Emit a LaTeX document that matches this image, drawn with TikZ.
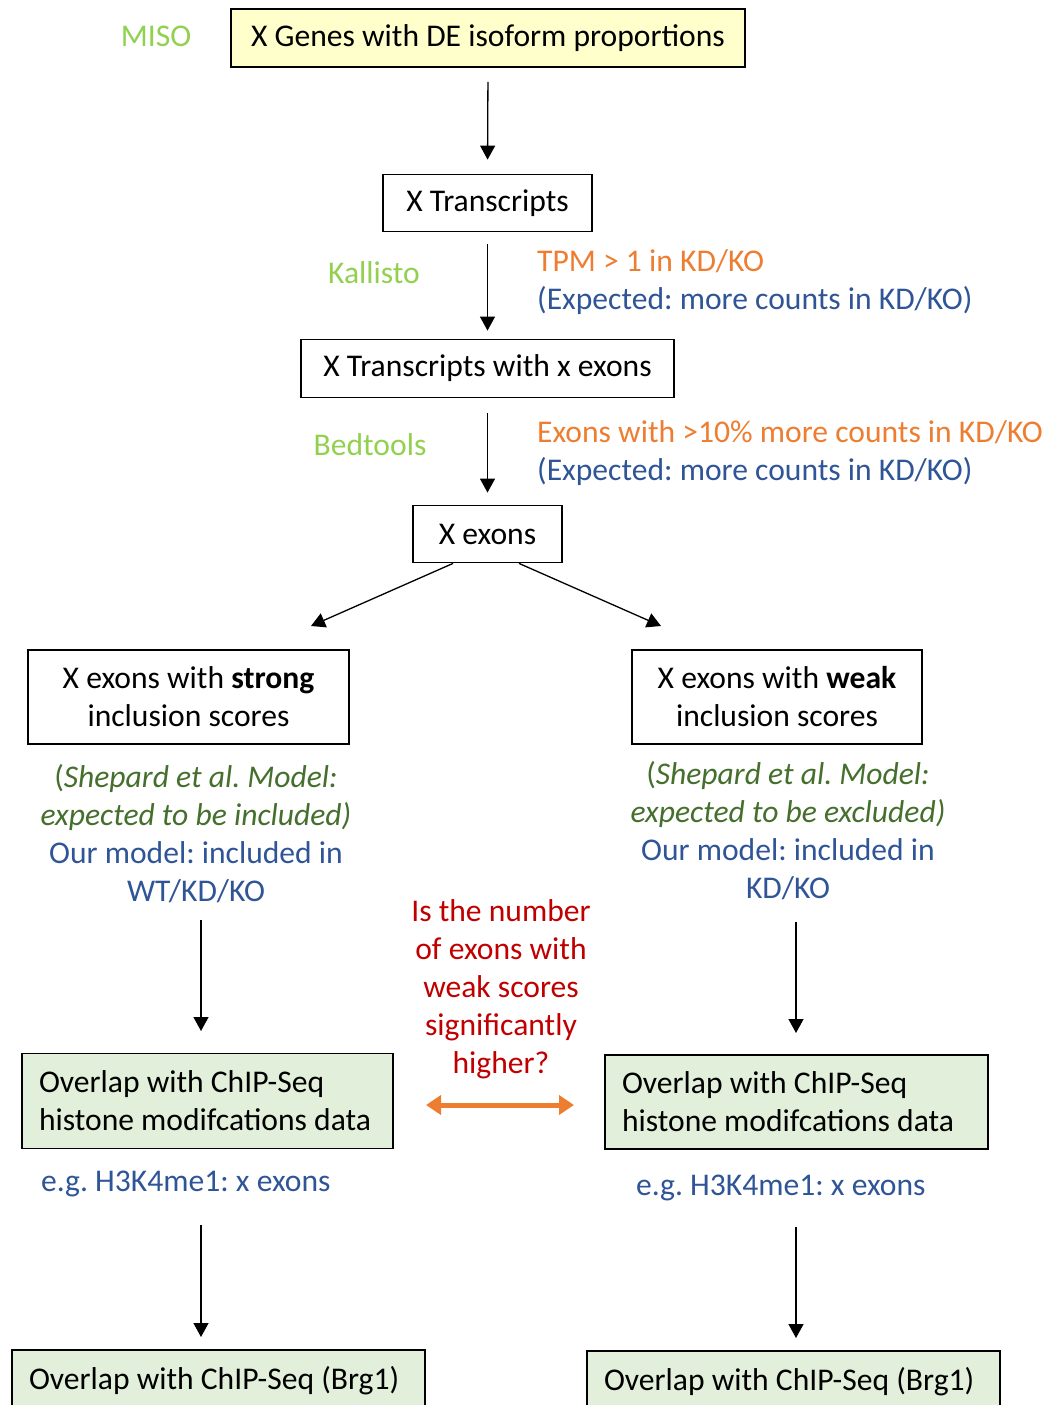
\documentclass[tikz,border=0pt]{standalone}
\usepackage{fontspec}
\setmainfont{Carlito}
\frenchspacing
\usetikzlibrary{arrows.meta,calc}
\definecolor{lgreen}{HTML}{92D050}
\definecolor{oorange}{HTML}{ED7D31}
\definecolor{oblue}{HTML}{2F5597}
\definecolor{dgreen}{HTML}{456F2D}
\definecolor{dred}{HTML}{C00000}
\definecolor{yfill}{HTML}{FFFFCC}
\definecolor{gfill}{HTML}{E2EFDA}
\begin{document}
\begin{tikzpicture}[x=1pt,y=-1pt,
  font=\fontsize{31.6}{38}\selectfont,
  box/.style={draw, line width=1.8pt, inner sep=0pt, align=center},
  lbox/.style={draw, line width=1.8pt, inner xsep=17pt, inner ysep=0pt, align=flush left},
  lbl/.style={inner sep=0pt, text height=0.72em, text depth=0.22em},
  arr/.style={line width=1.3pt, -{Triangle[width=15pt,length=14pt]}},
  darr/.style={line width=5pt, draw=oorange, {Triangle[width=19pt,length=15pt]}-{Triangle[width=19pt,length=15pt]}}
]
\useasboundingbox (0,0) rectangle (1049,1405);
\clip (0,0) rectangle (1049,1405);

% boxes
\node[box, fill=yfill, minimum width=514pt, minimum height=58pt] (b1) at (488,38) {X Genes with DE isoform proportions};
\node[box, minimum width=209pt, minimum height=57pt] (b2) at (487.5,203) {X Transcripts};
\node[box, minimum width=373pt, minimum height=58pt] (b3) at (487.5,368.5) {X Transcripts with x exons};
\node[box, minimum width=149pt, minimum height=57pt] (b4) at (487.5,534) {X exons};
\node[box, minimum width=321pt, minimum height=94pt] (b5) at (188.5,697) {X exons with \textbf{strong}\\inclusion scores};
\node[box, minimum width=290pt, minimum height=94pt] (b6) at (777,697) {X exons with \textbf{weak}\\inclusion scores};
\node[lbox, fill=gfill, text width=337pt, minimum height=95pt] (b7) at (207.5,1101) {Overlap with ChIP-Seq\\histone modifcations data};
\node[lbox, fill=gfill, text width=349pt, minimum height=94pt] (b8) at (796.5,1102) {Overlap with ChIP-Seq\\histone modifcations data};
\node[lbox, fill=gfill, text width=379pt, minimum height=62pt] (b9) at (218.5,1381) {Overlap with ChIP-Seq (Brg1)};
\node[lbox, fill=gfill, text width=379pt, minimum height=62pt] (b10) at (793.5,1382) {Overlap with ChIP-Seq (Brg1)};

% side labels
\node[lbl, text=lgreen] (miso) at (156,44) {MISO};
\node[lbl, text=lgreen] (kal) at (374,281) {Kallisto};
\node[lbl, text=lgreen] (bed) at (370,453) {Bedtools};
\node[lbl, anchor=west, text=oorange] (tpm) at (537,269) {TPM > 1 in KD/KO};
\node[lbl, anchor=west, text=oblue] (exp1) at (537,307) {(Expected: more counts in KD/KO)};
\node[lbl, anchor=west, text=oorange] (ex10) at (537,440) {Exons with >10\% more counts in KD/KO};
\node[lbl, anchor=west, text=oblue] (exp2) at (537,478) {(Expected: more counts in KD/KO)};

\node[lbl, align=center] (notesL) at (196,899) {\textcolor{dgreen}{(\textit{Shepard et al. Model:}}\\\textcolor{dgreen}{\textit{expected to be included)}}\\\textcolor{oblue}{Our model: included in}\\\textcolor{oblue}{WT/KD/KO}};
\node[lbl, align=center] (notesR) at (788,896) {\textcolor{dgreen}{(\textit{Shepard et al. Model:}}\\\textcolor{dgreen}{\textit{expected to be excluded)}}\\\textcolor{oblue}{Our model: included in}\\\textcolor{oblue}{KD/KO}};

\node[lbl, align=center, text=dred] (q) at (501,1071) {Is the number\\of exons with\\weak scores\\significantly\\higher?};

\node[lbl, anchor=west, text=oblue] (egL) at (41,1189) {e.g. H3K4me1: x exons};
\node[lbl, anchor=west, text=oblue] (egR) at (636,1193) {e.g. H3K4me1: x exons};

% connectors
\draw[arr, shorten <=14pt, shorten >=14pt] (b1.south) -- (b2.north);
\draw[arr, shorten <=12pt, shorten >=8pt] (b2.south) -- (b3.north);
\draw[arr, shorten <=15pt, shorten >=12pt] (b3.south) -- (b4.north);

\coordinate (dL0) at ($(b4.south)+(-34.5,0)$);
\coordinate (dR0) at ($(b4.south)+(31.5,0)$);
\coordinate (dL1) at (311,626);
\coordinate (dR1) at (661,626);
\draw[arr] (dL0) -- (dL1);
\draw[arr] (dR0) -- (dR1);

\coordinate (vL0) at (201,920);
\coordinate (vL1) at (201,1031);
\coordinate (vR0) at (796,922);
\coordinate (vR1) at (796,1033);
\draw[arr] (vL0) -- (vL1);
\draw[arr] (vR0) -- (vR1);

\coordinate (wL0) at (201,1225);
\coordinate (wL1) at (201,1337);
\coordinate (wR0) at (796,1227);
\coordinate (wR1) at (796,1338);
\draw[arr] (wL0) -- (wL1);
\draw[arr] (wR0) -- (wR1);

\coordinate (hL) at (426,1105);
\coordinate (hR) at (574,1105);
\draw[darr] (hL) -- (hR);
\end{tikzpicture}
\end{document}
